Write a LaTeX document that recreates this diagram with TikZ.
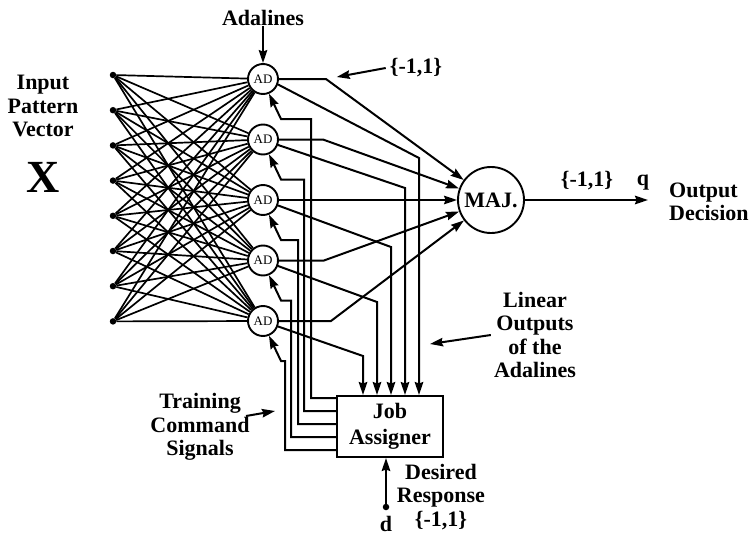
\documentclass[tikz,border=0pt]{standalone}
\usepackage{fontspec}
\setmainfont{Liberation Serif}
\usetikzlibrary{arrows.meta}
\tikzset{
  lbl/.style={font=\bfseries\fontsize{22}{23.5}\selectfont, align=center, inner sep=0pt},
  dot/.style={circle, fill, minimum size=6.5pt, inner sep=0pt},
  adnode/.style={circle, draw, line width=1.9pt, minimum size=30pt, inner sep=0pt, font=\fontsize{13}{13}\selectfont},
  majnode/.style={circle, draw, line width=1.9pt, minimum size=66pt, inner sep=0pt, font=\bfseries\fontsize{22}{22}\selectfont},
  jobbox/.style={draw, line width=2pt, minimum width=106pt, minimum height=61pt, inner sep=0pt, align=center, font=\bfseries\fontsize{22}{26}\selectfont},
  fan/.style={line width=1.7pt},
  arr/.style={line width=2pt, -{Stealth[length=13pt,width=8.5pt,inset=1.5pt]}},
}
\begin{document}
\begin{tikzpicture}[x=1pt,y=-1pt]
\useasboundingbox (0,0) rectangle (753,538);

% input pattern and adalines
\foreach \i in {1,...,8}
  \node[dot] (x\i) at (113,{75+35.2*(\i-1)}) {};
\foreach \k in {1,...,5}
  \node[adnode] (ad\k) at (263,{79+60.5*(\k-1)}) {AD};
\foreach \i in {1,...,8}
  \foreach \k in {1,...,5}
    \draw[fan] (x\i) -- (ad\k);

\node[majnode] (maj) at (491,200) {MAJ.};
\node[jobbox] (job) at (390,426.5) {Job\\Assigner};

% quantized outputs into the vote
\draw[arr] (ad1.east) -- ++(47,0) coordinate (k1) -- (maj);
\draw[arr] (ad2.east) -- ++(44,0) -- (maj);
\draw[arr] (ad3) -- (maj);
\draw[arr] (ad4.east) -- ++(45,0) -- (maj);
\draw[arr] (ad5.east) -- ++(52,0) -- (maj);

% linear outputs down to the job assigner
\path (job.north) ++(-27,0) coordinate (jt1) ++(14,0) coordinate (jt2)
  ++(14,0) coordinate (jt3) ++(14,0) coordinate (jt4) ++(14,0) coordinate (jt5);
\draw[arr] (ad1.-20) -- (jt5 |- 0,158) -- (jt5);
\draw[arr] (ad2.-20) -- (jt4 |- 0,188) -- (jt4);
\draw[arr] (ad3.-20) -- (jt3 |- 0,247) -- (jt3);
\draw[arr] (ad4.-20) -- (jt2 |- 0,302) -- (jt2);
\draw[arr] (ad5.-20) -- (jt1 |- 0,356) -- (jt1);

% training commands back to the adalines
\path (job.north west) ++(0,3) coordinate (jl1) ++(0,13) coordinate (jl2)
  ++(0,13) coordinate (jl3) ++(0,13) coordinate (jl4) ++(0,13) coordinate (jl5);
\foreach \k/\xv [evaluate=\k as \yj using {79+60.5*(\k-1)+40}] in {1/311,2/304,3/298,4/291,5/285}
  \draw[arr] (jl\k) -| (\xv,\yj) -- (281,\yj) -- (ad\k.-68);

% output
\coordinate (qout) at (648,200);
\draw[arr] (maj) -- (qout);
\node[lbl] (qset) at (587,181) {\{-1,1\}};
\node[lbl] (qlbl) at (643,183) {q};
\node[lbl, align=left, anchor=west] (outlbl) at (669,202) {Output\\Decision};

% labels
\node[lbl] (inlbl) at (43,106) {Input\\Pattern\\Vector};
\node[font=\bfseries\fontsize{46}{46}\selectfont, inner sep=0pt] (xlbl) at (43,177) {X};
\node[lbl] (adlbl) at (263,18) {Adalines};
\draw[arr] (adlbl) -- (ad1);
\node[lbl] (topset) at (416,68) {\{-1,1\}};
\draw[arr, shorten >=11pt] ([xshift=-4pt]topset.west) -- (k1);

\node[lbl] (linlbl) at (535,335) {Linear\\Outputs\\of the\\Adalines};
\coordinate (lintip) at (430,344);
\draw[arr] ([xshift=-3pt]linlbl.west) -- (lintip);

\node[lbl] (trlbl) at (200,427) {Training\\Command\\Signals};
\coordinate (trtail) at (246,416);
\coordinate (trtip) at (275,411);
\draw[arr] (trtail) -- (trtip);

\node[dot] (ddot) at (386,507) {};
\node[lbl] (dlbl) at (386,524) {d};
\draw[arr] (ddot) -- (ddot |- job.south);
\node[lbl] (deslbl) at (441,497) {Desired\\Response\\\{-1,1\}};
\end{tikzpicture}
\end{document}
